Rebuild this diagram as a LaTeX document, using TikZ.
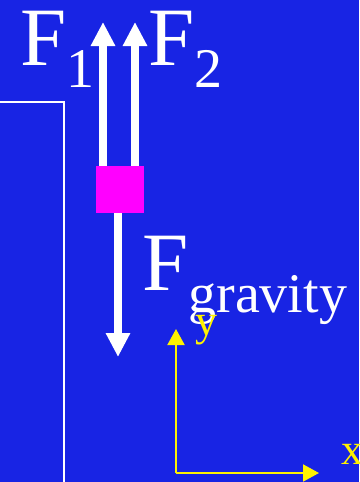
\documentclass[tikz,border=0pt]{standalone}
\usepackage{fontspec}
\setmainfont{Liberation Serif}
\usepackage{xcolor}
\usetikzlibrary{arrows.meta,positioning}
\definecolor{bgblue}{RGB}{24,36,228}
\definecolor{massmag}{RGB}{255,0,255}
\newcommand{\lowsub}[1]{\raisebox{-22pt}{\fontsize{56}{56}\selectfont #1}}

\begin{document}
\begin{tikzpicture}[
    x=1pt, y=-1pt,
    force/.style={draw=white, line width=8pt, -{Triangle[length=24pt,width=23pt]}},
    axis/.style={draw=yellow, line width=2pt, -{Triangle[length=16pt,width=17pt]}},
    big/.style={text=white, anchor=base west, inner sep=0pt, font=\fontsize{83}{83}\selectfont},
    axlabel/.style={text=yellow, anchor=base west, inner sep=0pt, font=\fontsize{44}{44}\selectfont}
]
    \useasboundingbox (0,0) rectangle (359,482);
    \fill[bgblue] (0,0) rectangle (359,482);

    % frame on the left
    \draw[white, line width=2pt] (-5,102) -- (64,102) -- (64,490);

    % the mass and its forces
    \node[fill=massmag, minimum width=48pt, minimum height=47pt, inner sep=0pt] (mass) at (120,189.5) {};
    \coordinate (f1tip) at (103,22);
    \coordinate (f2tip) at (135,22);
    \coordinate (gtip) at (118,357);
    \draw[force] (mass.north -| f1tip) -- (f1tip);
    \draw[force] (mass.north -| f2tip) -- (f2tip);
    \draw[force] (mass.south -| gtip) -- (gtip);

    \node[big] (F1) at (20,65) {F\lowsub{1}};
    \node[big] (F2) at (148,65) {F\lowsub{2}};
    \node[big] (Fg) at (142,290) {F\lowsub{gravity}};

    % axes
    \coordinate (origin) at (176,473);
    \coordinate (ytip) at (176,329);
    \coordinate (xtip) at (319,473);
    \draw[axis] (origin) -- (ytip);
    \draw[axis] (origin) -- (xtip);
    \node[axlabel] (ylab) at (195,335) {y};
    \node[axlabel] (xlab) at (341,464) {x};
\end{tikzpicture}
\end{document}
